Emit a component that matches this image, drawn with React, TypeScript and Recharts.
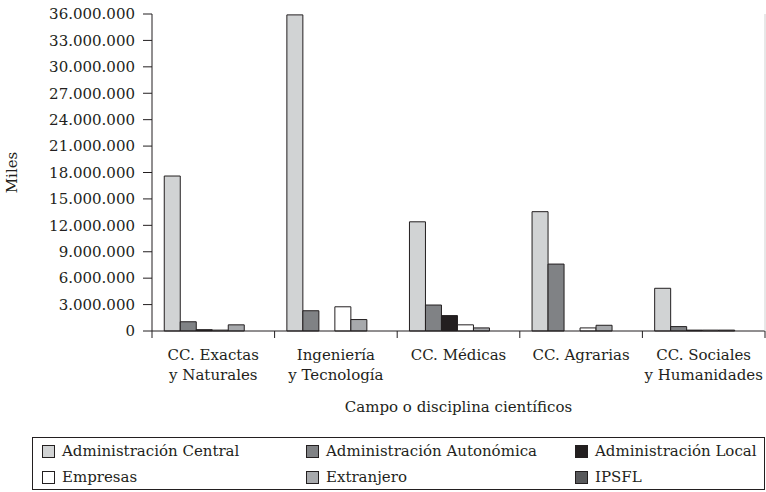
import React from 'react';
import { BarChart, Bar, XAxis, YAxis } from 'recharts';

const categoryLine1 = ['CC. Exactas', 'Ingeniería', 'CC. Médicas', 'CC. Agrarias', 'CC. Sociales'];
const categoryLine2 = ['y Naturales', 'y Tecnología', '', '', 'y Humanidades'];

const central = [17600000, 35900000, 12400000, 13550000, 4850000];
const autonomica = [1050000, 2300000, 2950000, 7600000, 500000];
const local = [150000, 0, 1750000, 0, 100000];
const empresas = [100000, 2750000, 700000, 350000, 100000];
const extranjero = [700000, 1300000, 350000, 650000, 100000];
const ipsfl = [0, 0, 0, 0, 0];

const yTicks = [0, 3000000, 6000000, 9000000, 12000000, 15000000, 18000000, 21000000, 24000000, 27000000, 30000000, 33000000, 36000000];

const series = [
  { key: 'central', name: 'Administración Central', color: '#d1d3d4' },
  { key: 'autonomica', name: 'Administración Autonómica', color: '#808285' },
  { key: 'local', name: 'Administración Local', color: '#231f20' },
  { key: 'empresas', name: 'Empresas', color: '#ffffff' },
  { key: 'extranjero', name: 'Extranjero', color: '#a7a9ac' },
  { key: 'ipsfl', name: 'IPSFL', color: '#58595b' },
];

const data = categoryLine1.map((c, i) => ({
  cat: c,
  central: central[i],
  autonomica: autonomica[i],
  local: local[i],
  empresas: empresas[i],
  extranjero: extranjero[i],
  ipsfl: ipsfl[i],
}));

const INK = '#231f20';
const FONT = '"DejaVu Serif", serif';

const fmt = (v: number) => String(v).replace(/\B(?=(\d{3})+(?!\d))/g, '.');

const CHART_W = 766;
const CHART_H = 435;
const Y_W = 152;
const PLOT_W = CHART_W - Y_W - 1;
const BAND = PLOT_W / categoryLine1.length;

function CategoryTick(props: any) {
  const { x, y, index } = props;
  const l1 = categoryLine1[index];
  const l2 = categoryLine2[index];
  const left = x - BAND / 2;
  return (
    <g>
      <line x1={left} y1={y - 8} x2={left} y2={y - 1} stroke={INK} />
      {index === categoryLine1.length - 1 && (
        <line x1={x + BAND / 2} y1={y - 8} x2={x + BAND / 2} y2={y - 1} stroke={INK} />
      )}
      <text x={x} y={y + 21} textAnchor="middle" fill={INK} fontSize={15} fontFamily={FONT}>
        {l1}
      </text>
      {l2 && (
        <text x={x} y={y + 41} textAnchor="middle" fill={INK} fontSize={15} fontFamily={FONT}>
          {l2}
        </text>
      )}
    </g>
  );
}

export default function App() {
  return (
    <div style={{ position: 'absolute', left: 0, top: 0, width: 766, height: 492, background: '#fff' }}>
      <BarChart
        width={CHART_W}
        height={CHART_H}
        data={data}
        margin={{ top: 14, right: 0, left: 0, bottom: 0 }}
        barCategoryGap="10%"
        barGap={0}
      >
        <XAxis
          dataKey="cat"
          height={104}
          interval={0}
          tickLine={false}
          axisLine={{ stroke: INK }}
          tick={<CategoryTick />}
          label={(p: any) => (
            <text
              x={p.viewBox.x + p.viewBox.width / 2}
              y={412}
              textAnchor="middle"
              fill={INK}
              fontSize={15}
              fontFamily={FONT}
            >
              Campo o disciplina científicos
            </text>
          )}
        />
        <XAxis
          xAxisId="top"
          orientation="top"
          height={0}
          tick={false}
          tickLine={false}
          axisLine={{ stroke: INK }}
        />
        <YAxis
          width={Y_W}
          domain={[0, 36000000]}
          ticks={yTicks}
          tickFormatter={fmt}
          tickSize={9}
          tickMargin={8}
          axisLine={{ stroke: INK }}
          tickLine={{ stroke: INK }}
          tick={{ fill: INK, fontSize: 15, fontFamily: FONT }}
          label={(p: any) => {
            const cy = p.viewBox.y + p.viewBox.height / 2;
            return (
              <text
                x={12}
                y={cy}
                transform={`rotate(-90 12 ${cy})`}
                textAnchor="middle"
                dominantBaseline="central"
                fill={INK}
                fontSize={15}
                fontFamily={FONT}
              >
                Miles
              </text>
            );
          }}
        />
        <YAxis
          yAxisId="r"
          orientation="right"
          width={1}
          tick={false}
          tickLine={false}
          axisLine={{ stroke: '#d0d0d0' }}
        />
        {series.map((s) => (
          <Bar
            key={s.key}
            dataKey={s.key}
            name={s.name}
            fill={s.color}
            stroke={INK}
            strokeWidth={1}
            isAnimationActive={false}
          />
        ))}
      </BarChart>
      <div
        style={{
          position: 'absolute',
          left: 32,
          top: 437,
          width: 731,
          height: 51,
          border: `1px solid ${INK}`,
          fontFamily: FONT,
          fontSize: 15,
          color: INK,
        }}
      >
        {series.map((s, i) => {
          const col = i % 3;
          const row = Math.floor(i / 3);
          const lefts = [9, 273, 542];
          return (
            <div
              key={s.key}
              style={{
                position: 'absolute',
                left: lefts[col],
                top: row === 0 ? 3 : 29,
                height: 20,
                display: 'flex',
                alignItems: 'center',
                whiteSpace: 'nowrap',
              }}
            >
              <span
                style={{
                  display: 'inline-block',
                  width: 11,
                  height: 11,
                  background: s.color,
                  border: `1px solid ${INK}`,
                  marginRight: 7,
                }}
              />
              <span>{s.name}</span>
            </div>
          );
        })}
      </div>
    </div>
  );
}
